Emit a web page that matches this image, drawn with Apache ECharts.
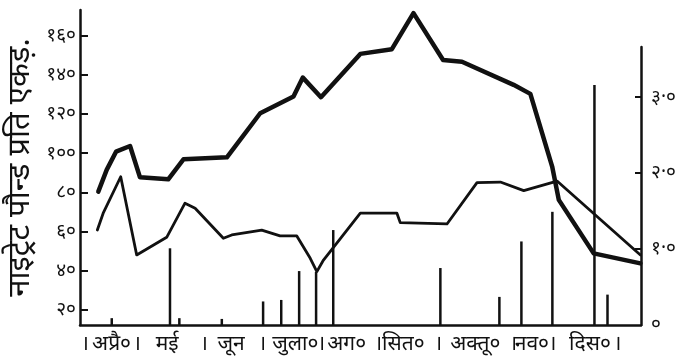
<!DOCTYPE html>
<html>
<head>
<meta charset="utf-8">
<script src="https://cdn.jsdelivr.net/npm/echarts@6/dist/echarts.min.js"></script>
<style>
html,body{margin:0;padding:0;background:#fff;}
#c{width:683px;height:364px;}
</style>
</head>
<body>
<div id="c"></div>
<script>
// x unit: days counted from 1 April
const thickDays   = [8.4, 12.7, 17.5, 24.7, 29.8, 44.3, 52.1, 74.4, 91.5, 108.6, 113.4, 122.7, 142.9, 159.1, 170.2, 185.4, 195.1, 221.6, 230.2, 241.4, 244.8, 262.7, 286.7];
const thickValues = [80.4, 91.5, 100.8, 103.7, 87.7, 86.7, 96.9, 97.9, 120.4, 128.9, 138.6, 128.6, 150.7, 153.1, 171.5, 147.6, 146.7, 134.9, 130.3, 93.2, 76.2, 48.9, 43.8];

const thinDays   = [7.9, 10.9, 19.9, 28.1, 43.5, 52.9, 58.1, 72.6, 76.9, 92.3, 101.7, 110.3, 117.2, 120.6, 124.0, 142.9, 161.7, 163.4, 187.4, 202.8, 214.8, 226.8, 243.9, 286.7];
const thinValues = [60.8, 69.4, 88.0, 48.1, 57.1, 74.5, 71.9, 56.6, 58.3, 60.8, 57.8, 57.8, 46.4, 39.6, 45.5, 69.4, 69.4, 64.6, 63.9, 85.0, 85.3, 80.9, 85.8, 48.1];

const rainDays   = [15.3, 45.2, 50.0, 71.8, 93.0, 102.3, 111.5, 120.2, 129.0, 184.0, 214.3, 225.6, 241.5, 263.1, 269.8];
const rainValues = [0.09, 1.01, 0.09, 0.08, 0.31, 0.33, 0.71, 0.70, 1.25, 0.75, 0.37, 1.10, 1.49, 3.16, 0.40];

const monthNames   = ['अप्रै०', 'मई', 'जून', 'जुला०', 'अग०', 'सित०', 'अक्तू०', 'नव०', 'दिस०'];
const monthCenters = [15.2, 43.7, 76.6, 109.5, 135.9, 165.0, 201.9, 231.0, 260.8];
const monthBounds  = [1.5, 28.3, 62.7, 92.5, 122.8, 152.1, 182.9, 221.4, 241.5, 274.9];

const leftTickValues  = [20, 40, 60, 80, 100, 120, 140, 160];
const leftTickLabels  = ['२०', '४०', '६०', '८०', '१००', '१२०', '१४०', '१६०'];
const rightTickValues = [0, 1, 2, 3];
const rightTickLabels = ['०', '१·०', '२·०', '३·०'];

const yTitle = 'नाइट्रेट पौन्ड प्रति एकड़.';

const FONT = '"Noto Sans", "Noto Sans Devanagari", "Lohit Devanagari", FreeSans, sans-serif';
const INK = '#111';

const xLabelMap = {};
monthCenters.forEach((v, i) => { xLabelMap[v] = monthNames[i]; });
monthBounds.forEach(v => { xLabelMap[v] = '।'; });
const leftMap = {};
leftTickValues.forEach((v, i) => { leftMap[v] = leftTickLabels[i]; });
const rightMap = {};
rightTickValues.forEach((v, i) => { rightMap[v] = rightTickLabels[i]; });

const zip = (a, b) => a.map((v, i) => [v, b[i]]);

const chart = echarts.init(document.getElementById('c'), null, {renderer: 'canvas'});
chart.setOption({
  backgroundColor: '#fff',
  animation: false,
  grid: [
    {left: 80, right: 42, top: 10, bottom: 39, containLabel: false, outerBoundsMode: 'none'},
    {left: 80, right: 42, top: 47, bottom: 39, containLabel: false, outerBoundsMode: 'none'}
  ],
  xAxis: [
    {
      type: 'value', gridIndex: 0, min: -1, max: 287,
      axisLine: {show: true, onZero: false, lineStyle: {color: INK, width: 2.5}},
      axisTick: {show: false},
      splitLine: {show: false},
      axisLabel: {
        customValues: monthCenters.concat(monthBounds).sort((a, b) => a - b),
        formatter: v => xLabelMap[v] || '',
        color: INK, fontSize: 21, fontFamily: FONT, margin: 9
      }
    },
    {
      type: 'value', gridIndex: 1, min: -1, max: 287, show: false,
      splitLine: {show: false}
    }
  ],
  yAxis: [
    {
      type: 'value', gridIndex: 0, position: 'left', min: 12.34, max: 173.1,
      axisLine: {show: true, onZero: false, lineStyle: {color: INK, width: 2.5}},
      axisTick: {show: true, inside: true, length: 8, customValues: leftTickValues, lineStyle: {color: INK, width: 2}},
      splitLine: {show: false},
      axisLabel: {customValues: leftTickValues, formatter: v => leftMap[v] || '', color: INK, fontSize: 19, fontFamily: FONT, margin: 4},
      name: yTitle, nameLocation: 'middle', nameRotate: 90, nameGap: 44,
      nameTextStyle: {color: INK, fontSize: 31, fontFamily: FONT}
    },
    {
      type: 'value', gridIndex: 1, position: 'right', min: 0, max: 3.66,
      axisLine: {show: true, onZero: false, lineStyle: {color: INK, width: 2.5}},
      axisTick: {show: true, inside: true, length: 6, customValues: [1, 2, 3], lineStyle: {color: INK, width: 2}},
      splitLine: {show: false},
      axisLabel: {customValues: rightTickValues, formatter: v => rightMap[v] || '', color: INK, fontSize: 19, fontFamily: FONT, margin: 10}
    }
  ],
  series: [
    {
      type: 'bar', xAxisIndex: 1, yAxisIndex: 1, data: zip(rainDays, rainValues),
      barWidth: 2.5, itemStyle: {color: INK}, silent: true
    },
    {
      type: 'line', xAxisIndex: 0, yAxisIndex: 0, data: zip(thickDays, thickValues),
      symbol: 'none', lineStyle: {color: INK, width: 4.5, join: 'round', cap: 'round'}
    },
    {
      type: 'line', xAxisIndex: 0, yAxisIndex: 0, data: zip(thinDays, thinValues),
      symbol: 'none', lineStyle: {color: INK, width: 2.8, join: 'round', cap: 'round'}
    }
  ]
});
</script>
</body>
</html>
